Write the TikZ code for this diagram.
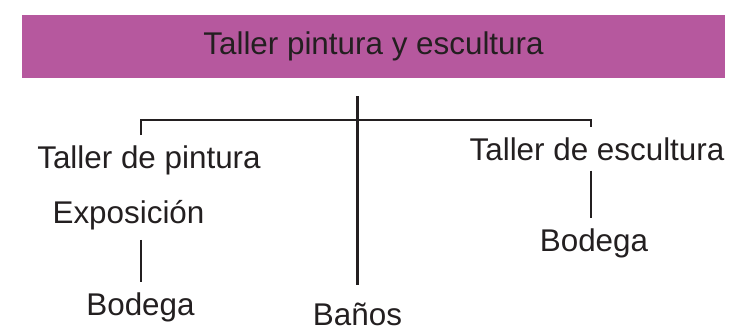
\documentclass[tikz,border=0pt]{standalone}
\usepackage{fontspec}
\setmainfont{Liberation Sans}
\usepackage{xcolor}
\definecolor{cMain}{HTML}{B6589E}
\definecolor{cText}{HTML}{231F20}
\usepackage{tikz}
\usetikzlibrary{positioning,calc}
\tikzset{
  node-title/.style={fill=cMain,draw=none,minimum width=21.09cm,
    minimum height=1.89cm,inner sep=0pt,text=cText,
    font=\fontsize{26.8}{32}\selectfont},
  node-label/.style={inner sep=0.3cm,anchor=base,text=cText,
    font=\fontsize{26.8}{32}\selectfont},
  link/.style={line width=2pt,draw=cText},
}

\begin{document}
\begin{tikzpicture}[x=0.03cm,y=-0.03cm]
  \useasboundingbox (0,0) rectangle (747,330);
  \node[node-title] (title) at (373.5,46.5) {Taller pintura y escultura};
  % ramas
  \node[node-label] (pintura)   at (149,168)   {Taller de pintura};
  \node[node-label] (expo)      at (128.5,223) {Exposición};
  \node[node-label] (bodega1)   at (140.5,315) {Bodega};
  \node[node-label] (banos)     at (357.5,325) {Baños};
  \node[node-label] (escultura) at (597,160)   {Taller de escultura};
  \node[node-label] (bodega2)   at (594,251)   {Bodega};
  \coordinate (lend) at (141,120);
  \coordinate (rend) at (591,120);
  % conexiones
  \draw[link,shorten <=0.54cm,shorten >=0.21cm]
    (title.south -| banos) -- (banos.north);
  \draw[link] (lend |- pintura.north) -- (lend) -- (rend)
    -- (rend |- escultura.north);
  \draw[link] (expo.south -| lend) -- (bodega1.north -| lend);
  \draw[link] (escultura.south -| rend) -- (bodega2.north -| rend);
\end{tikzpicture}
\end{document}
